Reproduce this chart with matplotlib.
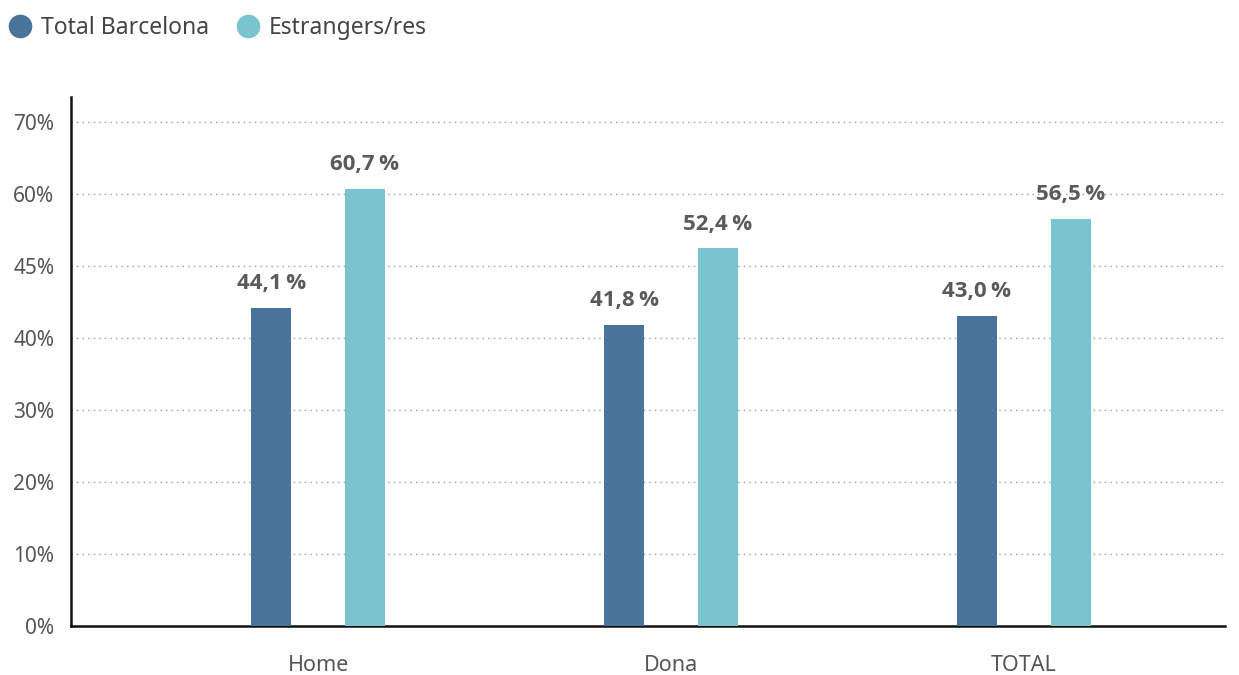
import matplotlib
matplotlib.use("Agg")
import matplotlib.pyplot as plt
import numpy as np

categories = ["Home", "Dona", "TOTAL"]
series_names = ["Total Barcelona", "Estrangers/res"]
total_bcn = [44.1, 41.8, 43.0]
estrangers = [60.7, 52.4, 56.5]
ytick_values = [0, 10, 20, 30, 40, 50, 60, 70]
ytick_labels = ["0%", "10%", "20%", "30%", "40%", "45%", "60%", "70%"]

colors = ["#4a7499", "#7ac4d0"]
txt = "#555555"
plt.rcParams['font.family'] = ['Noto Sans', 'DejaVu Sans']

fig = plt.figure(figsize=(12.39, 6.75), dpi=100)
ax = fig.add_axes([71/1239, 1-626/675, (1225-71)/1239, (626-97)/675])

x = np.arange(len(categories))
w = 0.113
off = 0.133
ax.bar(x - off, total_bcn, w, color=colors[0], zorder=3)
ax.bar(x + off, estrangers, w, color=colors[1], zorder=3)

def fmt(v):
    return f"{v:.1f}".replace(".", ",") + "\u2009%"

for xs, vals in [(x - off, total_bcn), (x + off, estrangers)]:
    for xi, v in zip(xs, vals):
        ax.text(xi, v + 1.9, fmt(v), ha="center", va="bottom", fontsize=16,
                fontweight="bold", color="#5a5a5a",
                family=['Open Sans', 'DejaVu Sans'])

ax.set_xlim(-0.70, 2.57)
ax.set_ylim(0, 73.4)
ax.set_yticks(ytick_values)
ax.set_yticklabels(ytick_labels, fontsize=15, color=txt)
ax.set_xticks(x)
ax.set_xticklabels(categories, fontsize=15.5, color=txt)
ax.tick_params(axis="both", length=0)
ax.tick_params(axis="y", pad=12)
ax.tick_params(axis="x", pad=21)

for v in ytick_values[1:]:
    ax.axhline(v, color="#999999", linestyle=(0, (1, 3)), linewidth=1, zorder=1)

for s in ["top", "right"]:
    ax.spines[s].set_visible(False)
ax.spines["left"].set_linewidth(1.8)
ax.spines["bottom"].set_linewidth(1.8)
ax.spines["left"].set_color("#111111")
ax.spines["bottom"].set_color("#111111")

# legend
for cx, tx, c, name in [(20, 41, colors[0], series_names[0]), (248, 269, colors[1], series_names[1])]:
    fig.add_artist(matplotlib.lines.Line2D([cx/1239], [1-26/675], marker="o", markersize=16,
                                           color=c, linestyle="none", transform=fig.transFigure))
    fig.text(tx/1239, 1-28/675, name, fontsize=16.5, color="#444444", va="center", ha="left")

fig.savefig("out.png", dpi=100)
